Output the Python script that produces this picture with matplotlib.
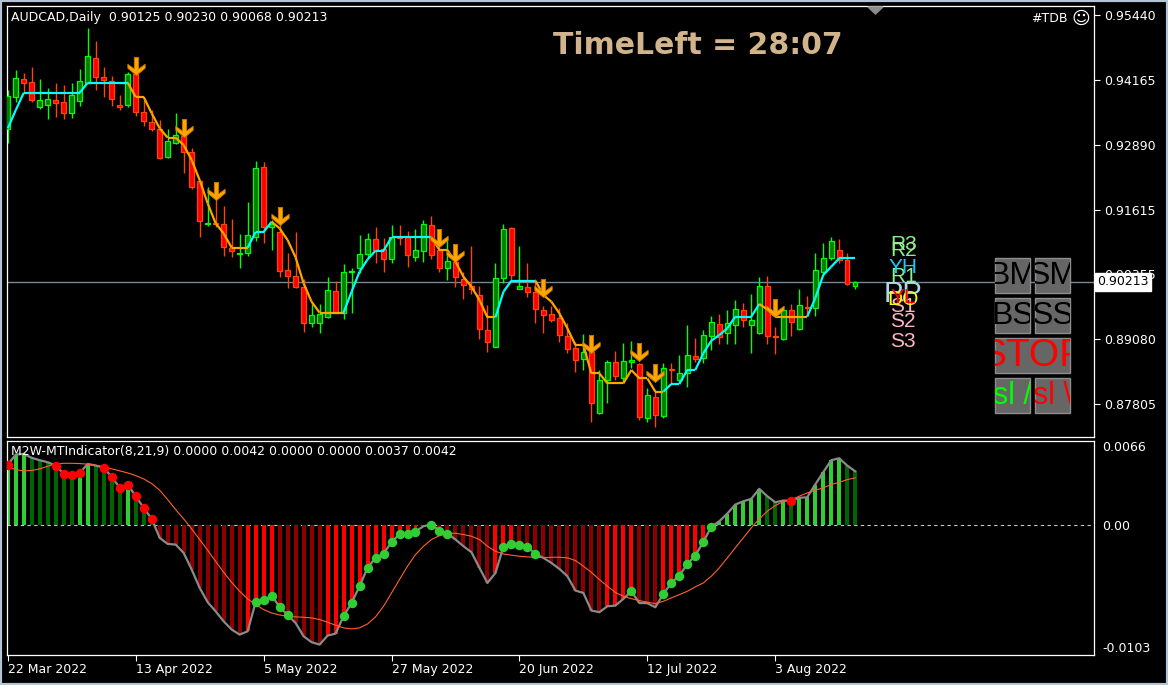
import numpy as np
import matplotlib.pyplot as plt
from matplotlib.collections import LineCollection
from matplotlib.patches import Rectangle, Polygon
from matplotlib.path import Path
from matplotlib.transforms import Bbox, TransformedBbox

W, H = 1168, 685

# ---- price panel data (AUDCAD daily) ----
opens = [0.93197, 0.93838, 0.94178, 0.94126, 0.93642, 0.93668, 0.93773, 0.93733, 0.93524, 0.93760,
         0.94113, 0.94590, 0.94217, 0.94139, 0.93675, 0.93668, 0.94283, 0.93544, 0.93348, 0.93197,
         0.92648, 0.92936, 0.93066, 0.92746, 0.92184, 0.91347, 0.91366, 0.91341, 0.90876, 0.90759,
         0.90765, 0.91092, 0.92452, 0.91275, 0.91184, 0.90438, 0.90320, 0.90098, 0.89405, 0.89405,
         0.89510, 0.90026, 0.89601, 0.90399, 0.90471, 0.90745, 0.91046, 0.90850, 0.90647, 0.91092,
         0.91079, 0.90687, 0.90804, 0.91315, 0.90830, 0.90471, 0.90602, 0.90255, 0.90124, 0.89941,
         0.89261, 0.88935, 0.90275, 0.91256, 0.90072, 0.90098, 0.90013, 0.89653, 0.89575, 0.89490,
         0.89144, 0.88902, 0.88686, 0.88837, 0.87627, 0.88281, 0.88627, 0.88314, 0.88627, 0.88588,
         0.87529, 0.87941, 0.87575, 0.88497, 0.88281, 0.88412, 0.88752, 0.88706, 0.89150, 0.89379,
         0.89196, 0.89359, 0.89653, 0.89359, 0.89196, 0.90124, 0.89144, 0.89078, 0.89653, 0.89274,
         0.89719, 0.89686, 0.90405, 0.90667, 0.90830, 0.90634, 0.90125]
highs = [0.93969, 0.94361, 0.94309, 0.94427, 0.94178, 0.94001, 0.94113, 0.94067, 0.94113, 0.94374,
         0.95179, 0.94930, 0.94427, 0.94244, 0.93871, 0.94329, 0.94427, 0.93773, 0.93577, 0.93380,
         0.93197, 0.93511, 0.93184, 0.92831, 0.92204, 0.92073, 0.92008, 0.91694, 0.91432, 0.91145,
         0.91772, 0.92583, 0.92557, 0.91419, 0.91419, 0.90765, 0.91184, 0.90255, 0.89771, 0.89771,
         0.90307, 0.90216, 0.90556, 0.90471, 0.91125, 0.91157, 0.91282, 0.91060, 0.91321, 0.91321,
         0.91210, 0.91243, 0.91419, 0.91498, 0.91027, 0.91092, 0.90765, 0.90392, 0.90909, 0.90124,
         0.89751, 0.90569, 0.91341, 0.91288, 0.90909, 0.90569, 0.90255, 0.89732, 0.89732, 0.89686,
         0.89392, 0.89032, 0.89183, 0.89065, 0.88477, 0.88673, 0.88856, 0.89000, 0.89045, 0.88608,
         0.88117, 0.88085, 0.88608, 0.88608, 0.88771, 0.89359, 0.89098, 0.89261, 0.89536, 0.89575,
         0.89653, 0.89849, 0.89784, 0.89967, 0.90307, 0.90320, 0.89327, 0.89732, 0.89771, 0.90072,
         0.89928, 0.90765, 0.90961, 0.91092, 0.91053, 0.90765, 0.90230]
lows = [0.92922, 0.93740, 0.93936, 0.93740, 0.93589, 0.93400, 0.93446, 0.93393, 0.93413, 0.93655,
        0.94100, 0.93969, 0.93838, 0.93655, 0.93577, 0.93629, 0.93459, 0.93263, 0.93165, 0.92620,
        0.92629, 0.92910, 0.92347, 0.92021, 0.91092, 0.91308, 0.91288, 0.90713, 0.90700, 0.90484,
        0.90713, 0.91013, 0.90961, 0.90830, 0.90308, 0.90092, 0.90092, 0.89228, 0.89327, 0.89196,
        0.89500, 0.89588, 0.89470, 0.89588, 0.90386, 0.90700, 0.90582, 0.90405, 0.90582, 0.90929,
        0.90503, 0.90621, 0.90602, 0.90660, 0.90405, 0.90242, 0.90111, 0.89863, 0.89967, 0.89091,
        0.88836, 0.88922, 0.90176, 0.90242, 0.90059, 0.89902, 0.89392, 0.89209, 0.89425, 0.89032,
        0.88804, 0.88444, 0.88477, 0.87463, 0.87614, 0.87823, 0.88281, 0.88215, 0.88510, 0.87496,
        0.87463, 0.87353, 0.87529, 0.88215, 0.88248, 0.88150, 0.88640, 0.88608, 0.88869, 0.88987,
        0.88987, 0.88987, 0.89313, 0.88817, 0.89183, 0.88987, 0.88784, 0.89065, 0.89144, 0.89261,
        0.89575, 0.89536, 0.90320, 0.90634, 0.90569, 0.90144, 0.90068]
closes = [0.93851, 0.94198, 0.94113, 0.93773, 0.93773, 0.93786, 0.93720, 0.93524, 0.93864, 0.94139,
          0.94636, 0.94230, 0.94165, 0.93799, 0.93642, 0.94276, 0.93544, 0.93367, 0.93211, 0.92629,
          0.92969, 0.93079, 0.92759, 0.92073, 0.91406, 0.91360, 0.91341, 0.90896, 0.90804, 0.90772,
          0.91118, 0.92433, 0.91275, 0.91341, 0.90425, 0.90327, 0.90111, 0.89405, 0.89549, 0.89575,
          0.90046, 0.89601, 0.90392, 0.90412, 0.90745, 0.91046, 0.90830, 0.90647, 0.91079, 0.91066,
          0.90726, 0.90830, 0.91341, 0.90739, 0.90471, 0.90608, 0.90294, 0.90137, 0.90059, 0.89274,
          0.89032, 0.90275, 0.91236, 0.90340, 0.90124, 0.90013, 0.89666, 0.89555, 0.89457, 0.89157,
          0.88883, 0.88673, 0.88837, 0.87823, 0.88281, 0.88640, 0.88359, 0.88660, 0.88673, 0.87561,
          0.87987, 0.87594, 0.88510, 0.88484, 0.88412, 0.88771, 0.88699, 0.89163, 0.89425, 0.89131,
          0.89392, 0.89666, 0.89457, 0.89457, 0.90124, 0.89144, 0.89117, 0.89653, 0.89425, 0.89751,
          0.89686, 0.90438, 0.90667, 0.91007, 0.90634, 0.90157, 0.90213]

# trailing stop line and its direction (1 = up / cyan, -1 = down / orange)
trail = [0.93217, 0.93577, 0.93917, 0.93917, 0.93917, 0.93917, 0.93917, 0.93917, 0.93917, 0.93917,
         0.94113, 0.94113, 0.94113, 0.94113, 0.94113, 0.94113, 0.93832, 0.93832, 0.93511, 0.93217,
         0.93034, 0.93034, 0.92890, 0.92596, 0.92204, 0.91746, 0.91354, 0.91157, 0.90876, 0.90876,
         0.90876, 0.91184, 0.91184, 0.91386, 0.91256, 0.91027, 0.90687, 0.90177, 0.89817, 0.89601,
         0.89601, 0.89601, 0.89601, 0.90013, 0.90405, 0.90647, 0.90817, 0.90817, 0.91079, 0.91079,
         0.91079, 0.91079, 0.91079, 0.91079, 0.90830, 0.90830, 0.90602, 0.90307, 0.90111, 0.89850,
         0.89510, 0.89510, 0.90013, 0.90229, 0.90229, 0.90229, 0.90229, 0.89948, 0.89817, 0.89588,
         0.89294, 0.88967, 0.88967, 0.88411, 0.88411, 0.88215, 0.88215, 0.88215, 0.88477, 0.88313,
         0.88313, 0.88052, 0.88052, 0.88202, 0.88202, 0.88477, 0.88477, 0.88804, 0.89052, 0.89163,
         0.89294, 0.89523, 0.89523, 0.89523, 0.89771, 0.89667, 0.89523, 0.89523, 0.89523, 0.89523,
         0.89523, 0.89883, 0.90340, 0.90503, 0.90667, 0.90667, 0.90667]
trail_dir = [1, 1, 1, 1, 1, 1, 1, 1, 1, 1, 1, 1, 1, 1, 1, 1,
             -1, -1, -1, -1, -1, -1, -1, -1, -1, -1, -1, -1, -1, -1, -1,
             1, 1, 1,
             -1, -1, -1, -1, -1, -1, -1, -1, -1,
             1, 1, 1, 1, 1, 1, 1, 1, 1, 1, 1,
             -1, -1, -1, -1, -1, -1, -1, -1,
             1, 1, 1, 1, 1,
             -1, -1, -1, -1, -1, -1, -1, -1, -1, -1, -1, -1, -1, -1, -1, -1,
             1, 1, 1, 1, 1, 1, 1, 1, 1, 1, 1, 1,
             -1, -1, -1, -1, -1, -1,
             1, 1, 1, 1, 1, 1]

arrow_bars = [16, 22, 26, 34, 54, 56, 67, 73, 79, 81, 96]
arrow_prices = [0.94263, 0.93053, 0.91811, 0.91321, 0.90896, 0.90602, 0.89915, 0.88804, 0.88660, 0.88248, 0.89510]

price_ticks = [0.95440, 0.94165, 0.92890, 0.91615, 0.90355, 0.89080, 0.87805]
last_price = 0.90213

pivot_names = ['R3', 'R2', 'R1', 'YH', 'PP', 'S1', 'S2', 'S3', 'DO', 'YL']
pivot_prices = [0.90830, 0.90713, 0.90203, 0.90379, 0.89810, 0.89614, 0.89320, 0.88928, 0.89752, 0.89791]
pivot_colors = ['#90ee90', '#90ee90', '#90ee90', '#1ec8ff', '#add8e6', '#ffb6c1', '#ffb6c1', '#ffb6c1', '#ffff00', '#ff0000']

# ---- indicator panel data (values x 1e-4) ----
macd_x1e4 = [47.4, 55.3, 55.8, 52.7, 50.8, 49.2, 46.6, 40.0, 39.5, 40.8,
             47.9, 46.6, 44.8, 37.7, 29.0, 31.6, 22.4, 13.2, 4.5, -10.5,
             -15.3, -15.8, -22.4, -35.5, -50.0, -61.3, -68.5, -76.4, -82.9, -86.9,
             -84.3, -61.3, -59.8, -56.1, -65.0, -71.4, -77.7, -88.2, -92.9, -94.8,
             -87.7, -86.1, -72.4, -61.9, -48.7, -34.2, -26.3, -22.9, -14.0, -7.4,
             -7.1, -5.5, -1.3, 0.0, -4.7, -7.1, -11.8, -17.1, -21.8, -34.2,
             -46.1, -38.2, -17.6, -15.3, -15.8, -17.6, -23.2, -26.3, -30.3, -35.0,
             -40.8, -52.1, -54.0, -67.9, -69.2, -64.5, -64.0, -58.7, -52.7, -61.9,
             -62.1, -65.3, -54.8, -46.1, -40.3, -31.1, -24.5, -13.7, -1.8, 2.6,
             8.7, 15.8, 18.4, 20.3, 28.2, 22.4, 17.6, 19.0, 18.7, 21.1,
             21.6, 31.6, 41.3, 50.8, 52.4, 46.6, 42.1]
signal_x1e4 = [45.6, 43.4, 42.4, 42.7, 44.0, 46.1, 47.9, 48.4, 48.4, 48.2,
               47.7, 46.9, 45.6, 44.0, 42.4, 40.8, 38.7, 36.1, 32.4, 27.1,
               19.7, 11.8, 4.5, -3.4, -11.8, -20.3, -29.0, -37.7, -45.6, -52.7,
               -58.7, -63.2, -67.1, -69.8, -71.4, -72.4, -72.9, -73.2, -73.7, -75.0,
               -77.1, -79.5, -81.6, -82.4, -81.6, -78.5, -72.9, -64.5, -54.0, -43.4,
               -32.9, -23.7, -17.1, -11.8, -8.7, -7.1, -6.8, -7.9, -9.2, -11.8,
               -17.1, -21.1, -23.2, -24.2, -25.0, -25.5, -25.8, -26.1, -25.8, -25.8,
               -26.3, -28.4, -32.9, -37.7, -43.4, -48.7, -53.5, -56.6, -58.5, -60.0,
               -61.3, -62.4, -60.6, -57.9, -55.3, -52.7, -49.2, -46.1, -40.8, -34.2,
               -26.3, -18.4, -10.5, -2.6, 4.5, 10.5, 15.0, 18.2, 19.7, 22.4,
               25.0, 27.1, 29.0, 31.6, 33.4, 35.5, 36.9]
red_dot_bars = [0, 6, 7, 8, 9, 12, 13, 14, 15, 16, 17, 18, 98]
green_dot_bars = [31, 32, 33, 34, 35, 42, 43, 44, 45, 46, 47, 48, 49, 50, 51, 53, 54, 55,
                  62, 63, 64, 65, 66, 78, 82, 83, 84, 85, 86, 87, 88]

date_ticks = [0, 16, 32, 48, 64, 80, 96]
date_labels = ['22 Mar 2022', '13 Apr 2022', '5 May 2022', '27 May 2022',
               '20 Jun 2022', '12 Jul 2022', '3 Aug 2022']

plt.rcParams['font.family'] = 'DejaVu Sans'


def fx(px):
    return px / W


def fy(py):
    return 1 - py / H


fig = plt.figure(figsize=(W / 100, H / 100), dpi=100, facecolor='black')

ax1 = fig.add_axes([fx(7), fy(437), fx(1094) - fx(7), fy(6) - fy(437)])
ax2 = fig.add_axes([fx(7), fy(655), fx(1094) - fx(7), fy(441) - fy(655)])
for ax in (ax1, ax2):
    ax.set_facecolor('black')
    for s in ax.spines.values():
        s.set_color('white')
        s.set_linewidth(0.9)
    ax.set_xlim(-0.1, (1094 - 7) / 8)
    ax.yaxis.tick_right()
    ax.tick_params(axis='y', colors='white', length=4, width=0.8, pad=3, labelsize=9)

# ---- candles ----
o = np.array(opens)
h = np.array(highs)
l = np.array(lows)
c = np.array(closes)
x = np.arange(len(o))
up = c >= o
wick_col = np.where(up, '#00ff00', '#ff4500')
ax1.axhline(last_price, color='#778899', lw=1.0, zorder=1)
ax1.vlines(x, l, h, colors=wick_col, lw=1.0, zorder=2)
body_lo = np.minimum(o, c)
body_h = np.maximum(np.abs(c - o), 0.00015)
ax1.bar(x[up], body_h[up], bottom=body_lo[up], width=0.58, color='#008000',
        edgecolor='#00ff00', linewidth=0.9, zorder=3)
ax1.bar(x[~up], body_h[~up], bottom=body_lo[~up], width=0.58, color='#ff0000',
        edgecolor='#ff4500', linewidth=0.9, zorder=3)

# trailing line
segs = [[(i - 1, trail[i - 1]), (i, trail[i])] for i in range(1, len(trail))]
seg_cols = ['#00ffff' if trail_dir[i] > 0 else '#ffa500' for i in range(1, len(trail))]
ax1.add_collection(LineCollection(segs, colors=seg_cols, linewidths=1.6, zorder=4))

# sell arrows
arrow_path = Path([(-0.12, 1.0), (0.12, 1.0), (0.12, 0.36), (0.48, 0.62), (0.48, 0.40),
                   (0.0, 0.0), (-0.48, 0.40), (-0.48, 0.62), (-0.12, 0.36), (-0.12, 1.0)],
                  closed=True)
ax1.plot(arrow_bars, arrow_prices, ls='none', marker=arrow_path, ms=26,
         mfc='#ffa500', mec='#c87800', mew=0.6, zorder=5)

# pivot labels (they sit on top of each other in the source chart too)
for name, p, col in zip(pivot_names, pivot_prices, pivot_colors):
    size = 21 if name == 'PP' else 15
    ax1.text(112, p, name, color=col, fontsize=size, family='Liberation Sans',
             ha='center', va='baseline', zorder=6)

ax1.set_ylim(0.87163, 0.95617)
ax1.set_yticks(price_ticks)
ax1.set_yticklabels(['%.5f' % v for v in price_ticks])
ax1.set_xticks([])
ax1.text(1.0 + 3 / 1087, last_price, '%.5f' % last_price, transform=ax1.get_yaxis_transform(),
         ha='left', va='center', fontsize=9, color='black', zorder=10,
         bbox=dict(boxstyle='square,pad=0.2', fc='white', ec='white'))

# ---- indicator ----
macd = np.array(macd_x1e4) / 1e4
sig = np.array(signal_x1e4) / 1e4
prev = np.concatenate([[macd[0] - 1e-6], macd[:-1]])
hist_cols = np.where(macd >= 0,
                     np.where(macd >= prev, '#32cd32', '#006400'),
                     np.where(macd >= prev, '#ff0000', '#8b0000'))
ax2.bar(x, macd, width=0.5, color=hist_cols, linewidth=0, zorder=2)
ax2.axhline(0, color='#c8c8c8', lw=0.8, ls=(0, (3, 3)), zorder=1)
ax2.plot(x, macd, color='#8a8a8a', lw=1.6, zorder=3)
ax2.plot(x, sig, color='#ff6030', lw=0.8, zorder=3)
ax2.plot(red_dot_bars, macd[red_dot_bars], 'o', color='#ff0000', ms=6.8, mec='none', zorder=4)
ax2.plot(green_dot_bars, macd[green_dot_bars], 'o', color='#32cd32', ms=6.8, mec='none', zorder=4)
ax2.set_ylim(-0.0103, 0.0066)
ax2.set_yticks([0.0066, 0.0, -0.0103])
ax2.set_yticklabels(['0.0066', '0.00', '-0.0103'])
ytl = ax2.get_yticklabels()
ytl[0].set_va('top')
ytl[2].set_va('bottom')
ax2.tick_params(axis='y', length=0, pad=6)
ax2.set_xticks(date_ticks)
ax2.set_xticklabels(date_labels, ha='left')
ax2.tick_params(axis='x', colors='white', length=4, width=0.8, pad=1.5, labelsize=9)

# ---- overlay texts ----
fig.text(fx(11), fy(17), 'AUDCAD,Daily  0.90125 0.90230 0.90068 0.90213',
         color='white', fontsize=9, va='center', ha='left')
fig.text(fx(11), fy(452), 'M2W-MTIndicator(8,21,9) 0.0000 0.0042 0.0000 0.0000 0.0037 0.0042',
         color='white', fontsize=9, va='center', ha='left')
fig.text(fx(698), fy(45), 'TimeLeft = 28:07', color='#d2b48c', fontsize=21.5,
         fontweight='bold', ha='center', va='center')
fig.text(fx(1068), fy(18), '#TDB', color='white', fontsize=9, ha='right', va='center')
fig.text(fx(1081), fy(19), '\u263a', color='white', fontsize=13, ha='center', va='center')
fig.add_artist(Polygon([(fx(868), fy(7)), (fx(883), fy(7)), (fx(875.5), fy(14))],
                       closed=True, transform=fig.transFigure, color='#8c8c8c'))

# trade panel buttons
buttons = [('BM', 995, 258, 35, 'black', 23), ('SM', 1035, 258, 35, 'black', 23),
           ('BS', 995, 298, 35, 'black', 23), ('SS', 1035, 298, 35, 'black', 23),
           ('STOP', 995, 338, 75, '#ff0000', 28), ('sl /', 995, 378, 35, '#00ff00', 22),
           ('sl \\', 1035, 378, 35, '#ff0000', 22)]
for label, bx, by, bw, tcol, fs in buttons:
    fig.add_artist(Rectangle((fx(bx), fy(by + 35)), bw / W, 35 / H, transform=fig.transFigure,
                             fc='#666666', ec='#8e8e8e', lw=1.0))
    t = fig.text(fx(bx + bw / 2), fy(by + 18), label, color=tcol, fontsize=fs,
                 family='Liberation Sans', ha='center', va='center')
    t.set_clip_box(TransformedBbox(Bbox.from_extents(fx(bx), fy(by + 35), fx(bx + bw), fy(by)),
                                   fig.transFigure))
    t.set_clip_on(True)

fig.add_artist(Rectangle((0, 0), 1, 1, transform=fig.transFigure, fill=False,
                         ec='#b4c4d4', lw=3))

fig.savefig('out.png', dpi=100, facecolor='black')
